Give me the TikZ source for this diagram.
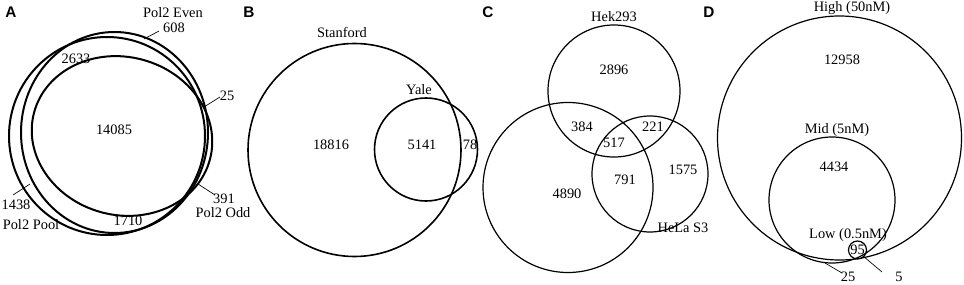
\documentclass[tikz,border=0pt]{standalone}
\usepackage{fontspec}
\setmainfont{Liberation Serif}
\newfontfamily\panelfont{Liberation Sans}

\begin{document}
\begin{tikzpicture}[x=0.75pt, y=-0.75pt, font=\fontsize{10.8}{13}\selectfont,
  every node/.style={inner sep=1pt},
  setA/.style={line width=1.5pt},
  setB/.style={line width=1.2pt},
  setC/.style={line width=0.9pt},
  leader/.style={line width=0.5pt},
  panel/.style={font=\panelfont\bfseries\fontsize{11.5}{13}\selectfont}]
  \useasboundingbox (0,0) rectangle (964,285);

  % panel letters
  \node[panel] (pA) at (11,12) {A};
  \node[panel] (pB) at (249,12) {B};
  \node[panel] (pC) at (488,12) {C};
  \node[panel] (pD) at (709,12) {D};

  % A: Pol2 Pool / Even / Odd
  \draw[setA] (107,136) ellipse [x radius=98, y radius=99];
  \draw[setA] (114.5,132.5) ellipse [x radius=93.5, y radius=100.5];
  \draw[setA] (122,136) ellipse [x radius=91, y radius=79, rotate=-15];

  \node[inner sep=0pt] (evenlbl) at (173,13) {Pol2 Even};
  \node[inner sep=0pt] (n608)    at (174,28) {608};
  \node (n2633)   at (76,59)  {2633};
  \node (n25a)    at (227,96) {25};
  \node (n14085)  at (114,130) {14085};
  \node (n1438)   at (16,205) {1438};
  \node (poollbl) at (31,225) {Pol2 Pool};
  \node (n1710)   at (128,221) {1710};
  \node (n391)    at (224,199) {391};
  \node (oddlbl)  at (223,213) {Pol2 Odd};

  \coordinate (l608a) at (159,31);  \coordinate (l608b) at (144,39);
  \coordinate (l25a)  at (220,97);  \coordinate (l25b)  at (204,107);
  \coordinate (l1438a) at (13,195); \coordinate (l1438b) at (30,184);
  \coordinate (l391a) at (215,195); \coordinate (l391b) at (198,184);
  \draw[leader] (l608a) -- (l608b);
  \draw[leader] (l25a) -- (l25b);
  \draw[leader] (l1438a) -- (l1438b);
  \draw[leader] (l391a) -- (l391b);

  % B: Stanford / Yale
  \draw[setB] (354.5,150) circle (106.5);
  \draw[setB] (426,149.5) circle (51.5);
  \node (stanlbl) at (342,33)  {Stanford};
  \node (yalelbl) at (419,90)  {Yale};
  \node (n18816)  at (331,145) {18816};
  \node (n5141)   at (422,145) {5141};
  \node (n78)     at (470,145) {78};

  % C: Hek293 / HeLa S3
  \draw[setC] (614,91) circle (66);
  \draw[setC] (568,187.5) circle (85);
  \draw[setC] (650,174) circle (58);
  \node (heklbl)  at (614,17)  {Hek293};
  \node (n2896)   at (614,70)  {2896};
  \node (n384)    at (582,127) {384};
  \node (n221)    at (653,127) {221};
  \node (n517)    at (614,143) {517};
  \node (n791)    at (625,180) {791};
  \node (n1575)   at (683,170) {1575};
  \node (n4890)   at (567,194) {4890};
  \node (helalbl) at (683,228) {HeLa S3};

  % D: High / Mid / Low
  \draw[setC] (839.5,138) circle (122);
  \draw[setC] (832,200) circle (63);
  \draw[setC] (857.5,250) circle (9);
  \node (highlbl) at (852,8)   {High (50nM)};
  \node (n12958)  at (842,60)  {12958};
  \node (midlbl)  at (837,130) {Mid (5nM)};
  \node (n4434)   at (834,167) {4434};
  \node (lowlbl)  at (848,235) {Low (0.5nM)};
  \node (n95)     at (857.5,250) {95};
  \node (n25d)    at (848,277) {25};
  \node (n5)      at (899,277) {5};

  \coordinate (l25c) at (825,263); \coordinate (l25d) at (842,273);
  \coordinate (l5a)  at (863,256); \coordinate (l5b)  at (882,272);
  \draw[leader] (l25c) -- (l25d);
  \draw[leader] (l5a) -- (l5b);
\end{tikzpicture}
\end{document}
